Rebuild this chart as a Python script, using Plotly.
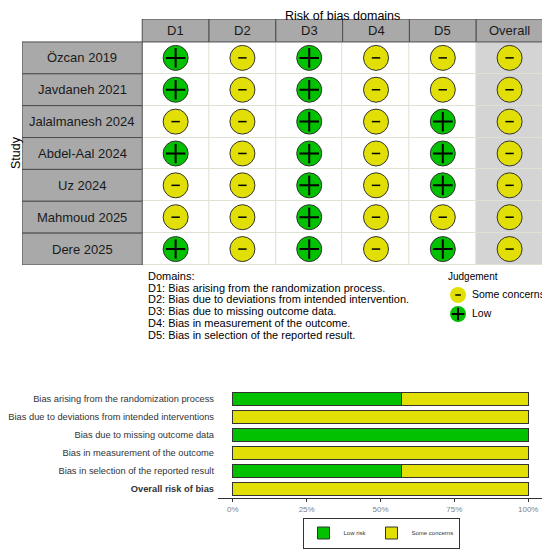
import numpy as np
import plotly.graph_objects as go

# traffic light data
studies = ["Özcan 2019", "Javdaneh 2021", "Jalalmanesh 2024", "Abdel-Aal 2024",
           "Uz 2024", "Mahmoud 2025", "Dere 2025"]
domains = ["D1", "D2", "D3", "D4", "D5", "Overall"]
d1 = ["Low", "Low", "Some concerns", "Low", "Some concerns", "Some concerns", "Low"]
d2 = ["Some concerns"] * 7
d3 = ["Low"] * 7
d4 = ["Some concerns"] * 7
d5 = ["Some concerns", "Some concerns", "Low", "Low", "Low", "Some concerns", "Low"]
overall = ["Some concerns"] * 7

domain_notes = ["Domains:",
                "D1: Bias arising from the randomization process.",
                "D2: Bias due to deviations from intended intervention.",
                "D3: Bias due to missing outcome data.",
                "D4: Bias in measurement of the outcome.",
                "D5: Bias in selection of the reported result."]
judgement_levels = ["Some concerns", "Low"]

# summary plot labels
summary_labels = ["Bias arising from the randomization process",
                  "Bias due to deviations from intended interventions",
                  "Bias due to missing outcome data",
                  "Bias in measurement of the outcome",
                  "Bias in selection of the reported result",
                  "<b>Overall risk of bias</b>"]
pct_ticks = [0, 0.25, 0.5, 0.75, 1]
pct_labels = ["0%", "25%", "50%", "75%", "100%"]

GREEN = "#02C100"
YELLOW = "#E2DF07"
FONT = "Liberation Sans, Arial, sans-serif"
colors = {"Low": GREEN, "Some concerns": YELLOW}

# the page body has an 8px margin, so lay out in window pixels and convert
OFF = 8
W, H = 550 - OFF, 549 - OFF


def X(p):
    return (p - OFF) / W


def Y(p):
    return 1 - (p - OFF) / H


matrix = [d1, d2, d3, d4, d5, overall]
n_st = len(studies)

fig = go.Figure()

# cell backgrounds (overall column shaded)
z = [[1 if j == len(domains) - 1 else 0 for j in range(len(domains))] for i in range(n_st)]
fig.add_trace(go.Heatmap(
    z=z, x=list(range(len(domains))), y=list(range(n_st)),
    colorscale=[[0, "white"], [1, "#d4d4d4"]], showscale=False,
    xgap=1, ygap=1, hoverinfo="skip", xaxis="x", yaxis="y"))

xs, ys, cs, js = [], [], [], []
for j, col in enumerate(matrix):
    for i, v in enumerate(col):
        xs.append(j)
        ys.append(i)
        cs.append(colors[v])
        js.append(v)
xs = np.array(xs)
ys = np.array(ys)
js = np.array(js)

fig.add_trace(go.Scatter(
    x=xs, y=ys, mode="markers", xaxis="x", yaxis="y",
    marker=dict(size=25, color=cs, line=dict(color="#333333", width=1)),
    showlegend=False, hoverinfo="skip"))
lo = js == "Low"
fig.add_trace(go.Scatter(
    x=xs[lo], y=ys[lo], mode="markers", xaxis="x", yaxis="y",
    marker=dict(symbol="cross-thin", size=14, line=dict(color="black", width=2)),
    showlegend=False, hoverinfo="skip"))
fig.add_trace(go.Scatter(
    x=xs[~lo], y=ys[~lo], mode="markers", xaxis="x", yaxis="y",
    marker=dict(symbol="line-ew", size=6, line=dict(color="black", width=1.5)),
    showlegend=False, hoverinfo="skip"))

shapes = []
# grid behind the heatmap gaps
shapes.append(dict(type="rect", xref="x", yref="y", x0=-0.5, x1=len(domains) - 0.5,
                   y0=-0.5, y1=n_st - 0.5, fillcolor="#dde2d2", line_width=0, layer="below"))
annotations = []
for i, s in enumerate(studies):
    shapes.append(dict(type="rect", xref="x", yref="y", x0=-2.3, x1=-0.5,
                       y0=i - 0.5, y1=i + 0.5, fillcolor="#a9a9a9",
                       line=dict(color="#4d4d4d", width=1)))
    annotations.append(dict(x=-1.4, y=i, xref="x", yref="y", text=s, showarrow=False,
                            font=dict(size=13, color="#1a1a1a")))
for j, d in enumerate(domains):
    shapes.append(dict(type="rect", xref="x", yref="y", x0=j - 0.5, x1=j + 0.5,
                       y0=-1.22, y1=-0.5, fillcolor="#a9a9a9",
                       line=dict(color="#4d4d4d", width=1)))
    annotations.append(dict(x=j, y=-0.86, xref="x", yref="y", text=d, showarrow=False,
                            font=dict(size=13, color="#1a1a1a")))

annotations.append(dict(x=X(342.5), y=Y(8), xref="paper", yref="paper",
                        text="Risk of bias domains", showarrow=False, yanchor="top",
                        xanchor="center", borderpad=0,
                        font=dict(size=12.5, color="black")))
annotations.append(dict(x=X(8), y=Y(153), xref="paper", yref="paper",
                        text="Study", textangle=-90, showarrow=False, yanchor="middle",
                        xanchor="left", borderpad=0, font=dict(size=12.5, color="black")))
for k, line in enumerate(domain_notes):
    annotations.append(dict(x=X(146), y=Y(276 + k * 11.7), xref="paper",
                            yref="paper", text=line, showarrow=False, xanchor="left",
                            yanchor="middle", font=dict(size=11, color="black")))
annotations.append(dict(x=X(446), y=Y(276), xref="paper", yref="paper",
                        text="Judgement", showarrow=False, xanchor="left", yanchor="middle",
                        font=dict(size=10, color="black")))

# judgement legend
jx = [0.164] * len(judgement_levels)
jy = list(range(len(judgement_levels)))
fig.add_trace(go.Scatter(
    x=jx, y=jy, mode="markers+text", xaxis="x3", yaxis="y3",
    text=[" " + t for t in judgement_levels], textposition="middle right",
    textfont=dict(size=10.5, color="black"),
    marker=dict(size=16, color=[colors[t] for t in judgement_levels], line_width=0),
    showlegend=False, hoverinfo="skip", cliponaxis=False))
fig.add_trace(go.Scatter(
    x=[jx[1]], y=[jy[1]], mode="markers", xaxis="x3", yaxis="y3",
    marker=dict(symbol="cross-thin", size=9, line=dict(color="black", width=2)),
    showlegend=False, hoverinfo="skip", cliponaxis=False))
fig.add_trace(go.Scatter(
    x=[jx[0]], y=[jy[0]], mode="markers", xaxis="x3", yaxis="y3",
    marker=dict(symbol="line-ew", size=4, line=dict(color="black", width=1.5)),
    showlegend=False, hoverinfo="skip", cliponaxis=False))

# summary bar plot
low_share = [sum(v == "Low" for v in col) / len(col) for col in matrix]
some_share = [1 - s for s in low_share]
fig.add_trace(go.Bar(
    y=summary_labels, x=low_share, orientation="h", name="Low risk",
    marker=dict(color=GREEN, line=dict(color="#333333", width=1)),
    width=0.7, xaxis="x2", yaxis="y2", hoverinfo="skip"))
fig.add_trace(go.Bar(
    y=summary_labels, x=some_share, orientation="h", name="Some concerns",
    marker=dict(color=YELLOW, line=dict(color="#333333", width=1)),
    width=0.7, xaxis="x2", yaxis="y2", hoverinfo="skip"))

fig.update_layout(
    template="none",
    width=W, height=H, margin=dict(l=0, r=0, t=0, b=0, pad=0),
    paper_bgcolor="white", plot_bgcolor="white",
    font=dict(family=FONT),
    barmode="stack",
    shapes=shapes, annotations=annotations,
    xaxis=dict(domain=[X(22), X(543)], range=[-2.3, 5.5], visible=False,
               anchor="y", automargin=False),
    yaxis=dict(domain=[Y(265), Y(19)], range=[6.5, -1.22], visible=False,
               anchor="x", automargin=False),
    xaxis3=dict(domain=[X(440), 1.0], range=[0, 1], visible=False, anchor="y3",
                automargin=False),
    yaxis3=dict(domain=[Y(323.5), Y(285.5)], range=[1.5, -0.5],
                visible=False, anchor="x3", automargin=False),
    xaxis2=dict(domain=[X(218), X(543)], range=[-0.05, 1.05], anchor="y2",
                automargin=False,
                tickvals=pct_ticks, ticktext=pct_labels, showgrid=False, zeroline=False,
                showline=True, linecolor="#333333", linewidth=1,
                ticks="outside", ticklen=3, tickcolor="#333333",
                tickfont=dict(size=8, color="#7f7f7f")),
    yaxis2=dict(domain=[Y(498.3), Y(388.2)], range=[5.52, -0.6],
                anchor="x2", automargin=False, ticklabelstandoff=3,
                categoryorder="array", categoryarray=summary_labels,
                showgrid=False, zeroline=False, ticks="", showline=False,
                tickfont=dict(size=9.3, color="#333333")),
    showlegend=True,
    legend=dict(orientation="h", x=X(381), xanchor="center", y=Y(533),
                yanchor="middle", bordercolor="#333333", borderwidth=1,
                itemwidth=30, font=dict(size=6, color="#333333"), traceorder="normal"),
)

fig.write_html("out.html")
